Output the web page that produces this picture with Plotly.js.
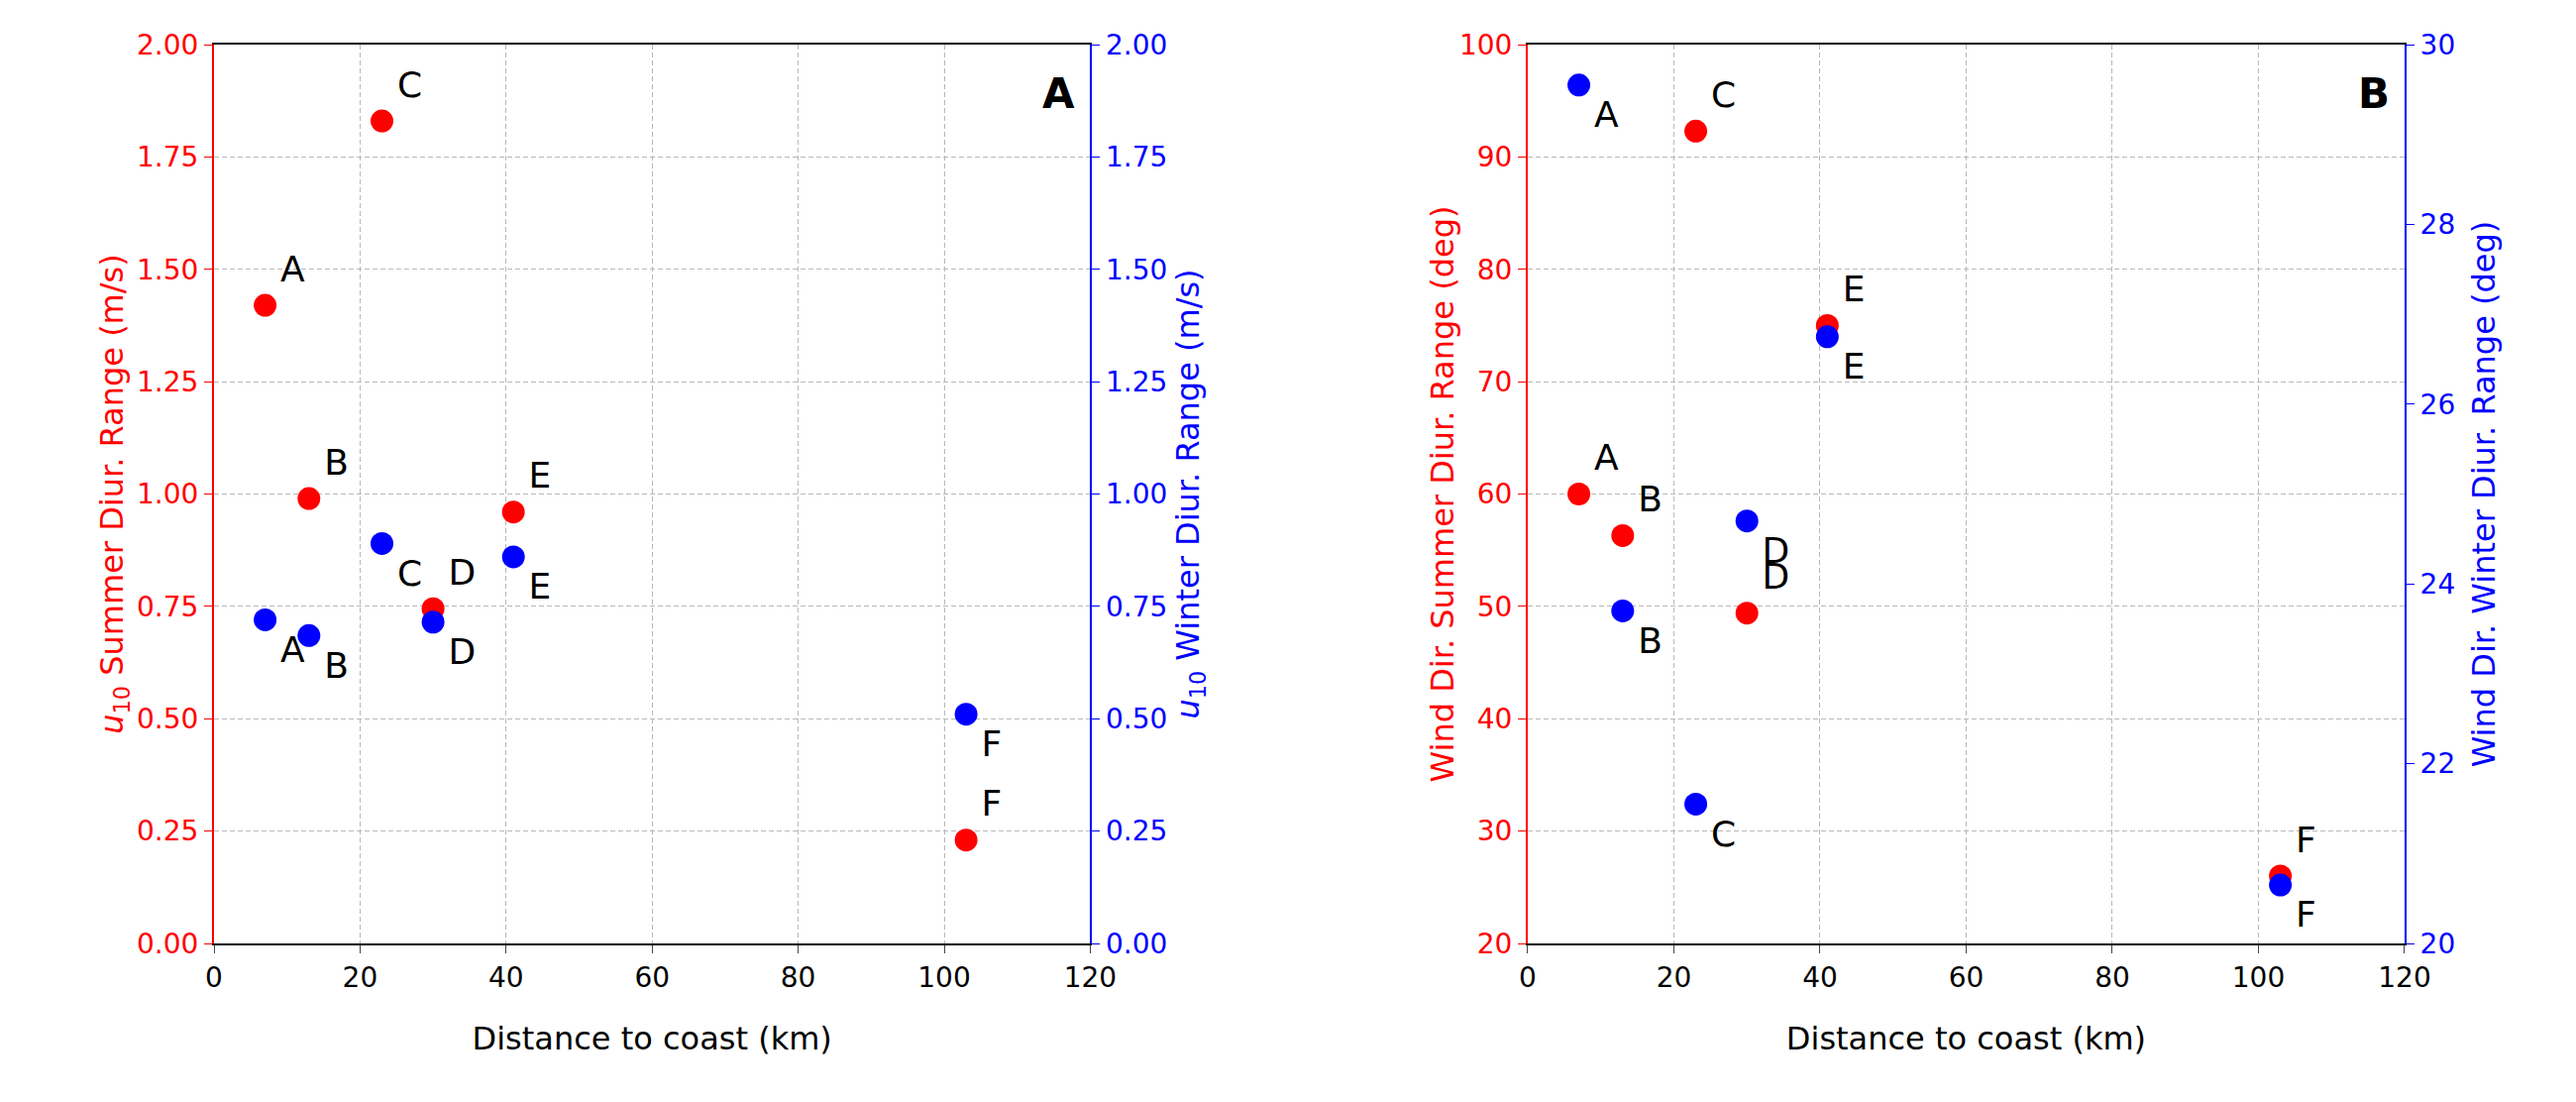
<!DOCTYPE html>
<html>
<head>
<script src="https://cdn.plot.ly/plotly-3.0.1.min.js"></script>
<style>body{margin:0;background:#fff}</style>
</head>
<body>
<div id="chart" style="width:2600px;height:1112px"></div>
<script>
// sites and distances
var sites = ['A', 'B', 'C', 'D', 'E', 'F'];
var distKm = [7, 13, 23, 30, 41, 103];
// panel A: wind speed diurnal range (m/s)
var speedSummer = [1.42, 0.99, 1.83, 0.745, 0.96, 0.23];
var speedWinter = [0.72, 0.685, 0.89, 0.715, 0.86, 0.51];
// panel B: wind direction diurnal range (deg)
var dirSummer = [60, 56.3, 92.3, 49.4, 75, 26];
var dirWinter = [29.55, 23.7, 21.55, 24.7, 26.75, 20.65];

var RED = '#ff0000', BLUE = '#0000ff';
var fnt = {family: 'DejaVu Sans', size: 28, color: '#000'};

function pts(y, col, xa, ya, pos) {
  return {
    x: distKm, y: y, xaxis: xa, yaxis: ya, text: sites,
    mode: 'markers+text', type: 'scatter', textposition: pos,
    marker: {color: col, size: 23},
    textfont: {family: 'DejaVu Sans', size: 36, color: '#000'},
    cliponaxis: false, showlegend: false
  };
}

var data = [
  pts(speedSummer, RED, 'x', 'y', 'top right'),
  pts(speedWinter, BLUE, 'x', 'y2', 'bottom right'),
  pts(dirSummer, RED, 'x2', 'y3', 'top right'),
  pts(dirWinter, BLUE, 'x2', 'y4', 'bottom right')
];

function xax(dom, anchor) {
  return {domain: dom, anchor: anchor, range: [0, 120], dtick: 20, showgrid: true,
    gridcolor: '#b8b8b8', griddash: '5px,3px', zeroline: false, showline: true, mirror: true,
    linecolor: '#000', linewidth: 2, ticks: 'outside', ticklen: 8, tickfont: fnt,
    title: {text: 'Distance to coast (km)', font: {family: 'DejaVu Sans', size: 32, color: '#000'}}};
}
function yax(range, dtick, col, title, side, over, anchor, fmt) {
  var a = {range: range, dtick: dtick, anchor: anchor, side: side, zeroline: false,
    showline: true, linecolor: col, linewidth: 2, ticks: 'outside', ticklen: 8,
    tickcolor: col, tickfont: {family: 'DejaVu Sans', size: 28, color: col},
    tickformat: fmt, showgrid: !over, gridcolor: '#b8b8b8', griddash: '5px,3px',
    title: {text: title, font: {family: 'DejaVu Sans', size: 32, color: col}}};
  if (over) a.overlaying = over; else a.domain = [0, 1];
  return a;
}

var layout = {
  width: 2600, height: 1112, paper_bgcolor: '#fff', plot_bgcolor: '#fff',
  margin: {l: 216, r: 173, t: 45, b: 160},
  xaxis: xax([0, 0.4], 'y'),
  xaxis2: xax([0.5997, 1], 'y3'),
  yaxis: yax([0, 2], 0.25, RED, '<i>u</i><sub>10</sub> Summer Diur. Range (m/s)', 'left', null, 'x', '.2f'),
  yaxis2: yax([0, 2], 0.25, BLUE, '<i>u</i><sub>10</sub> Winter Diur. Range (m/s)', 'right', 'y', 'x', '.2f'),
  yaxis3: yax([20, 100], 10, RED, 'Wind Dir. Summer Diur. Range (deg)', 'left', null, 'x2', ''),
  yaxis4: yax([20, 30], 2, BLUE, 'Wind Dir. Winter Diur. Range (deg)', 'right', 'y3', 'x2', ''),
  annotations: [
    {text: '<b>A</b>', xref: 'x domain', yref: 'y domain', x: 0.985, y: 0.975,
      xanchor: 'right', yanchor: 'top', showarrow: false, font: {family: 'DejaVu Sans', size: 42, color: '#000'}},
    {text: '<b>B</b>', xref: 'x2 domain', yref: 'y3 domain', x: 0.985, y: 0.975,
      xanchor: 'right', yanchor: 'top', showarrow: false, font: {family: 'DejaVu Sans', size: 42, color: '#000'}}
  ]
};

Plotly.newPlot('chart', data, layout, {displayModeBar: false});
</script>
</body>
</html>
